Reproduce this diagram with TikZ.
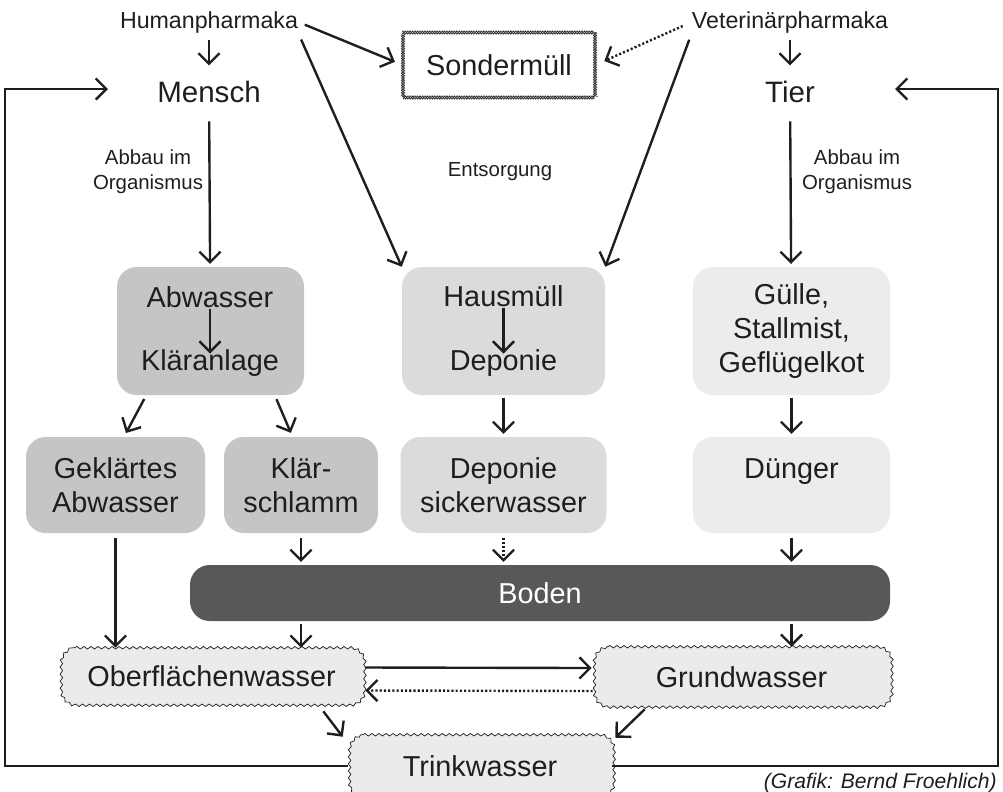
\documentclass[tikz,border=0pt]{standalone}
\usepackage{fontspec}
\setmainfont{Liberation Sans}
\usetikzlibrary{arrows.meta,decorations.pathmorphing,calc,backgrounds}
\newlength{\pxu}\setlength{\pxu}{0.025cm}
\definecolor{abwGray}{HTML}{C5C5C7}
\definecolor{hausGray}{HTML}{DBDBDD}
\definecolor{tierGray}{HTML}{ECECEC}
\definecolor{bodenGray}{HTML}{58585A}
\definecolor{waterGray}{HTML}{EBEBEB}
\definecolor{inkBlack}{HTML}{1E1E1E}
% wavy frame with rounded corners round a named node
\newcommand{\wavyFrame}[1]{%
  \path[wavyLine] ($(#1.north west)+(15,0)$) -- ($(#1.north east)+(-15,0)$)
    arc[start angle=90, end angle=0, radius=15\pxu]
    -- ($(#1.south east)+(0,-15)$)
    arc[start angle=0, end angle=-90, radius=15\pxu]
    -- ($(#1.south west)+(15,0)$)
    arc[start angle=-90, end angle=-180, radius=15\pxu]
    -- ($(#1.north west)+(0,15)$)
    arc[start angle=180, end angle=90, radius=15\pxu] -- cycle;}

\begin{document}
\begin{tikzpicture}
  [x=1\pxu, y=-1\pxu,
   bigLabel/.style={inner sep=0pt, text=inkBlack, font=\fontsize{21}{24}\selectfont},
   topLabel/.style={inner sep=0pt, text=inkBlack, font=\fontsize{16.5}{20}\selectfont},
   noteLabel/.style={inner sep=0pt, text=inkBlack, align=center, font=\fontsize{14.5}{17.5}\selectfont},
   boxText/.style={inner sep=0pt, text=inkBlack, font=\fontsize{20.5}{24}\selectfont},
   myBox/.style={rectangle, rounded corners=14pt, align=center, inner sep=0pt,
                 text=inkBlack, font=\fontsize{20.5}{24}\selectfont},
   wavyBox/.style={rectangle, inner sep=0pt, text=inkBlack, font=\fontsize{20.5}{24}\selectfont},
   wavyLine/.style={draw=inkBlack, fill=waterGray, line width=0.5pt,
                    decorate, decoration={snake, amplitude=0.9pt, segment length=5pt}},
   sonderBox/.style={rectangle, inner sep=0pt, text=inkBlack, font=\fontsize{20.5}{24}\selectfont,
                     preaction={draw=inkBlack, line width=0.35pt, decorate,
                                decoration={zigzag, amplitude=1.2pt, segment length=2.4pt}},
                     postaction={draw=inkBlack, line width=0.35pt, decorate,
                                 decoration={zigzag, amplitude=1.2pt, segment length=2.4pt, mirror}}},
   arr/.style={draw=inkBlack, line width=1.7pt,
               -{Straight Barb[length=7.5pt, width=15pt, line width=1.7pt]}},
   dotArr/.style={dash pattern=on 1.5pt off 1.5pt}]

  \useasboundingbox (0,0) rectangle (1003,791);

  % top row
  \node[topLabel] (human) at (209,22) {Humanpharmaka};
  \node[bigLabel] (mensch) at (209,92) {Mensch};
  \node[topLabel] (vet) at (790,22) {Veterinärpharmaka};
  \node[bigLabel] (tier) at (790,92) {Tier};
  \node[sonderBox, minimum width=192\pxu, minimum height=65\pxu] (sonder) at (499,65) {Sondermüll};

  \node[noteLabel] (abbauL) at (148,172) {Abbau im\\Organismus};
  \node[noteLabel] (entsorgung) at (500,172) {Entsorgung};
  \node[noteLabel] (abbauR) at (857,172) {Abbau im\\Organismus};

  % sources
  \node[myBox, fill=abwGray, minimum width=187\pxu, minimum height=128\pxu] (abwbox) at (210.5,331) {};
  \node[boxText] (abw) at (210,297) {Abwasser};
  \node[boxText] (klaer) at (210,363) {Kläranlage};
  \node[myBox, fill=hausGray, minimum width=203\pxu, minimum height=128\pxu] (hausbox) at (503.5,331) {};
  \node[boxText] (haus) at (503.5,296) {Hausmüll};
  \node[boxText] (depo) at (503.5,363) {Deponie};
  \node[myBox, fill=tierGray, minimum width=197\pxu, minimum height=128\pxu] (guelle) at (791.5,331) {Gülle,\\Stallmist,\\Geflügelkot};

  \node[myBox, fill=abwGray, minimum width=179\pxu, minimum height=96\pxu] (geklaert) at (115.5,485) {Geklärtes\\Abwasser};
  \node[myBox, fill=abwGray, minimum width=154\pxu, minimum height=96\pxu] (schlamm) at (301,485) {Klär-\\schlamm};
  \node[myBox, fill=hausGray, minimum width=206\pxu, minimum height=96\pxu] (sicker) at (503.5,485) {Deponie\\sickerwasser};
  \node[myBox, fill=tierGray, minimum width=197\pxu, minimum height=96\pxu] (duenger) at (791.5,485) {Dünger\\\mbox{}};

  \node[myBox, fill=bodenGray, text=white, minimum width=700\pxu, minimum height=56\pxu] (boden) at (540,593) {Boden};

  % water
  \node[wavyBox, minimum width=303\pxu, minimum height=57\pxu] (oberfl) at (211.5,676.5) {Oberflächenwasser};
  \node[wavyBox, minimum width=297\pxu, minimum height=60\pxu] (grund) at (741.5,677) {Grundwasser};
  \node[wavyBox, minimum width=264\pxu, minimum height=62\pxu] (trink) at (480,766) {Trinkwasser};
  \begin{scope}[on background layer]
    \wavyFrame{oberfl}
    \wavyFrame{grund}
    \wavyFrame{trink}
  \end{scope}

  \node[inner sep=0pt, anchor=base east, text=inkBlack, font=\itshape\fontsize{15}{18}\selectfont] (credit) at (997,788) {(Grafik: Bernd Froehlich)};

  \coordinate (frameL) at (5,89);
  \coordinate (tipL) at (108,89);
  \coordinate (frameR) at (998,89);
  \coordinate (tipR) at (895,89);

  \draw[arr, shorten <=5pt, shorten >=11pt] (human) -- (mensch);
  \draw[arr, shorten <=5pt, shorten >=11pt] (vet) -- (tier);
  \draw[arr, shorten <=5pt, shorten >=6pt] (human.east) -- (sonder.west);
  \draw[arr, dotArr, shorten <=7pt, shorten >=7pt] (vet.west) -- (sonder.east);
  \draw[arr, shorten <=5pt] (human.south east) -- (hausbox.north west);
  \draw[arr, shorten <=5pt] (vet.south west) -- (hausbox.north east);
  \draw[arr, shorten <=13pt, shorten >=2pt] (mensch) -- (abwbox);
  \draw[arr, shorten <=13pt, shorten >=2pt] (tier) -- (guelle);

  \draw[arr, shorten <=1pt, shorten >=-3pt] (abw) -- (klaer);
  \draw[arr, shorten <=1pt, shorten >=-3pt] (haus) -- (depo);
  \draw[arr, shorten <=3pt, shorten >=3pt] (abwbox.225) -- (geklaert.80);
  \draw[arr, shorten <=3pt, shorten >=3pt] (abwbox.315) -- (schlamm.100);
  \draw[arr, shorten <=2pt, shorten >=2pt] (hausbox) -- (sicker);
  \draw[arr, shorten <=2pt, shorten >=2pt] (guelle) -- (duenger);

  \draw[arr, shorten <=3pt] (geklaert.south) -- (geklaert.south |- oberfl.north);
  \draw[arr, shorten <=3pt, shorten >=2pt] (schlamm.south) -- (schlamm.south |- boden.north);
  \draw[arr, dotArr, shorten <=3pt, shorten >=2pt] (sicker.south) -- (sicker.south |- boden.north);
  \draw[arr, shorten <=3pt, shorten >=2pt] (duenger.south) -- (duenger.south |- boden.north);
  \draw[arr, shorten <=2pt] (schlamm.south |- boden.south) -- (schlamm.south |- oberfl.north);
  \draw[arr, shorten <=2pt] (duenger.south |- boden.south) -- (duenger.south |- grund.north);

  \draw[arr] ($(oberfl.east)+(2,-9)$) -- ($(grund.west)+(-1,-9)$);
  \draw[arr, dotArr] ($(grund.west)+(0,14)$) -- ($(oberfl.east)+(2,14)$);
  \draw[arr] ($(oberfl.south east)+(-40,6)$) -- ($(trink.north west)+(-5,2)$);
  \draw[arr] ($(grund.south west)+(52,2)$) -- ($(trink.north east)+(3,3)$);

  \draw[arr] (trink.west) -| (frameL) -- (tipL);
  \draw[arr] (trink.east) -| (frameR) -- (tipR);
\end{tikzpicture}
\end{document}
